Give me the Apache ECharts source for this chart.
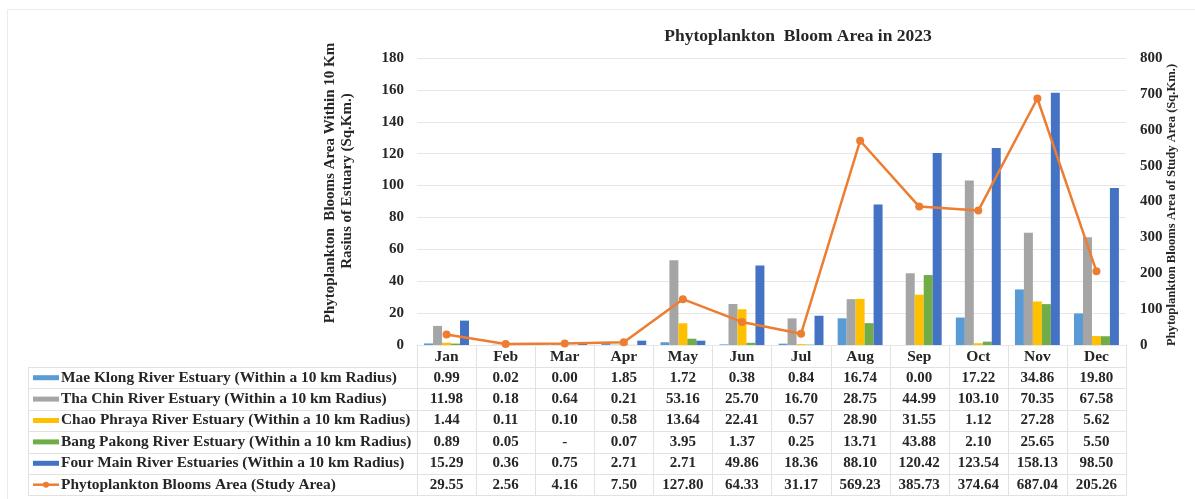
<!DOCTYPE html>
<html>
<head>
<meta charset="utf-8">
<script src="https://cdn.jsdelivr.net/npm/echarts@6/dist/echarts.min.js"></script>
<style>
  html, body { margin: 0; padding: 0; background: #fff; }
  #chart { width: 1195px; height: 499px; }
</style>
</head>
<body>
<div id="chart"></div>
<script>
// Monthly categories
const months = ['Jan', 'Feb', 'Mar', 'Apr', 'May', 'Jun', 'Jul', 'Aug', 'Sep', 'Oct', 'Nov', 'Dec'];

// Bloom area within a 10 km radius of each estuary (sq. km)
const maeKlong   = [0.99, 0.02, 0.00, 1.85, 1.72, 0.38, 0.84, 16.74, 0.00, 17.22, 34.86, 19.80];
const thaChin    = [11.98, 0.18, 0.64, 0.21, 53.16, 25.70, 16.70, 28.75, 44.99, 103.10, 70.35, 67.58];
const chaoPhraya = [1.44, 0.11, 0.10, 0.58, 13.64, 22.41, 0.57, 28.90, 31.55, 1.12, 27.28, 5.62];
const bangPakong = [0.89, 0.05, null, 0.07, 3.95, 1.37, 0.25, 13.71, 43.88, 2.10, 25.65, 5.50];
const fourMain   = [15.29, 0.36, 0.75, 2.71, 2.71, 49.86, 18.36, 88.10, 120.42, 123.54, 158.13, 98.50];

// Bloom area over the whole study area (sq. km)
const studyArea  = [29.55, 2.56, 4.16, 7.50, 127.80, 64.33, 31.17, 569.23, 385.73, 374.64, 687.04, 205.26];

// Axis ticks
const leftTicks  = [0, 20, 40, 60, 80, 100, 120, 140, 160, 180];
const rightTicks = [0, 100, 200, 300, 400, 500, 600, 700, 800];

const seriesNames = [
  'Mae Klong River Estuary (Within a 10 km Radius)',
  'Tha Chin River Estuary (Within a 10 km Radius)',
  'Chao Phraya River Estuary (Within a 10 km Radius)',
  'Bang Pakong River Estuary (Within a 10 km Radius)',
  'Four Main River Estuaries (Within a 10 km Radius)',
  'Phytoplankton Blooms Area (Study Area)'
];
const seriesData = [maeKlong, thaChin, chaoPhraya, bangPakong, fourMain, studyArea];
const colors = ['#5B9BD5', '#A5A5A5', '#FFC000', '#70AD47', '#4472C4', '#ED7D31'];

const FONT = '"Liberation Serif", "Times New Roman", serif';
const TXT = '#262626';
const GRIDLINE = '#e6e6e6';

const chart = echarts.init(document.getElementById('chart'), null, { renderer: 'canvas' });

const barSeries = seriesData.slice(0, 5).map((d, i) => ({
  name: seriesNames[i],
  type: 'bar',
  data: d,
  yAxisIndex: 0,
  barGap: '0%',
  barCategoryGap: '24%',
  itemStyle: { color: colors[i] }
}));

chart.setOption({
  animation: false,
  backgroundColor: '#fff',
  title: {
    text: 'Phytoplankton  Bloom Area in 2023',
    left: 793,
    top: 22,
    textAlign: 'center',
    textStyle: { fontFamily: FONT, fontWeight: 'bold', fontSize: 17.5, color: TXT }
  },
  grid: { left: 417, right: 69, top: 58, bottom: 154, containLabel: false },
  xAxis: {
    type: 'category',
    data: months,
    axisLine: { show: true, lineStyle: { color: GRIDLINE } },
    axisTick: { show: false },
    axisLabel: { fontFamily: FONT, fontWeight: 'bold', fontSize: 15.5, color: TXT, margin: 4 }
  },
  yAxis: [
    {
      type: 'value',
      min: 0, max: 180, interval: 20,
      axisLine: { show: false },
      axisTick: { show: false },
      splitLine: { lineStyle: { color: GRIDLINE } },
      axisLabel: { fontFamily: FONT, fontWeight: 'bold', fontSize: 15, color: TXT, margin: 13,
        formatter: v => leftTicks.includes(v) ? String(v) : '' }
    },
    {
      type: 'value',
      min: 0, max: 800, interval: 100,
      position: 'right',
      axisLine: { show: false },
      axisTick: { show: false },
      splitLine: { show: false },
      axisLabel: { fontFamily: FONT, fontWeight: 'bold', fontSize: 15, color: TXT, margin: 14,
        formatter: v => rightTicks.includes(v) ? String(v) : '' }
    }
  ],
  series: barSeries.concat([{
    name: seriesNames[5],
    type: 'line',
    data: studyArea,
    yAxisIndex: 1,
    symbol: 'circle',
    symbolSize: 8,
    lineStyle: { color: colors[5], width: 2.5 },
    itemStyle: { color: colors[5] },
    z: 5
  }])
});

// Data table under the plot, aligned to the category axis
function buildTable() {
  const g = [];
  const x0 = chart.convertToPixel({ xAxisIndex: 0 }, 0);
  const x1 = chart.convertToPixel({ xAxisIndex: 0 }, 1);
  const step = x1 - x0;
  const axisY = chart.convertToPixel({ yAxisIndex: 0 }, 0);
  const tableLeft = 28;
  const rowTop = 367;
  const rowH = 21.4;
  const nRows = seriesNames.length;
  const tableBottom = rowTop + rowH * nRows;
  const lineStyle = { stroke: '#e2e2e2', lineWidth: 1 };

  // outer frame of the whole figure
  g.push({ type: 'rect', shape: { x: 7.5, y: 9.5, width: 1200, height: 500 },
    style: { fill: 'none', stroke: '#ebebeb', lineWidth: 1 }, silent: true });

  // vertical separators between months
  for (let k = 0; k <= months.length; k++) {
    const x = Math.round(x0 - step / 2 + k * step) + 0.5;
    g.push({ type: 'line', shape: { x1: x, y1: axisY, x2: x, y2: tableBottom }, style: lineStyle, silent: true });
  }
  // label column left border
  g.push({ type: 'line', shape: { x1: tableLeft + 0.5, y1: rowTop, x2: tableLeft + 0.5, y2: tableBottom }, style: lineStyle, silent: true });
  // horizontal rules
  const xRight = Math.round(x0 - step / 2 + months.length * step) + 0.5;
  for (let r = 0; r <= nRows; r++) {
    const y = Math.round(rowTop + r * rowH) + 0.5;
    g.push({ type: 'line', shape: { x1: tableLeft, y1: y, x2: xRight, y2: y }, style: lineStyle, silent: true });
  }

  for (let r = 0; r < nRows; r++) {
    const cy = rowTop + rowH * (r + 0.5);
    // legend key
    if (r < 5) {
      g.push({ type: 'rect', shape: { x: 33, y: cy - 2.5, width: 26, height: 5 },
        style: { fill: colors[r] }, silent: true });
    } else {
      g.push({ type: 'line', shape: { x1: 33, y1: cy, x2: 59, y2: cy },
        style: { stroke: colors[r], lineWidth: 2.5 }, silent: true });
      g.push({ type: 'circle', shape: { cx: 46, cy: cy, r: 3 },
        style: { fill: colors[r] }, silent: true });
    }
    g.push({ type: 'text', x: 61, y: cy,
      style: { text: seriesNames[r], fontFamily: FONT, fontWeight: 'bold', fontSize: 15.4,
        fill: TXT, align: 'left', verticalAlign: 'middle' }, silent: true });
    // values
    seriesData[r].forEach((v, i) => {
      const cx = chart.convertToPixel({ xAxisIndex: 0 }, i);
      g.push({ type: 'text', x: cx, y: cy,
        style: { text: v === null ? '-' : v.toFixed(2), fontFamily: FONT, fontWeight: 'bold',
          fontSize: 15, fill: TXT, align: 'center', verticalAlign: 'middle' }, silent: true });
    });
  }

  // axis titles
  g.push({ type: 'text', x: 330, y: 183, rotation: Math.PI / 2,
    style: { text: 'Phytoplankton  Blooms Area Within 10 Km', fontFamily: FONT, fontWeight: 'bold',
      fontSize: 15, fill: TXT, align: 'center', verticalAlign: 'middle' }, silent: true });
  g.push({ type: 'text', x: 347, y: 181, rotation: Math.PI / 2,
    style: { text: 'Rasius of Estuary (Sq.Km.)', fontFamily: FONT, fontWeight: 'bold',
      fontSize: 15, fill: TXT, align: 'center', verticalAlign: 'middle' }, silent: true });
  g.push({ type: 'text', x: 1172, y: 205, rotation: Math.PI / 2,
    style: { text: 'Phytoplankton Blooms Area of Study Area (Sq.Km.)', fontFamily: FONT, fontWeight: 'bold',
      fontSize: 12.6, fill: TXT, align: 'center', verticalAlign: 'middle' }, silent: true });

  chart.setOption({ graphic: g });
}
buildTable();
</script>
</body>
</html>
